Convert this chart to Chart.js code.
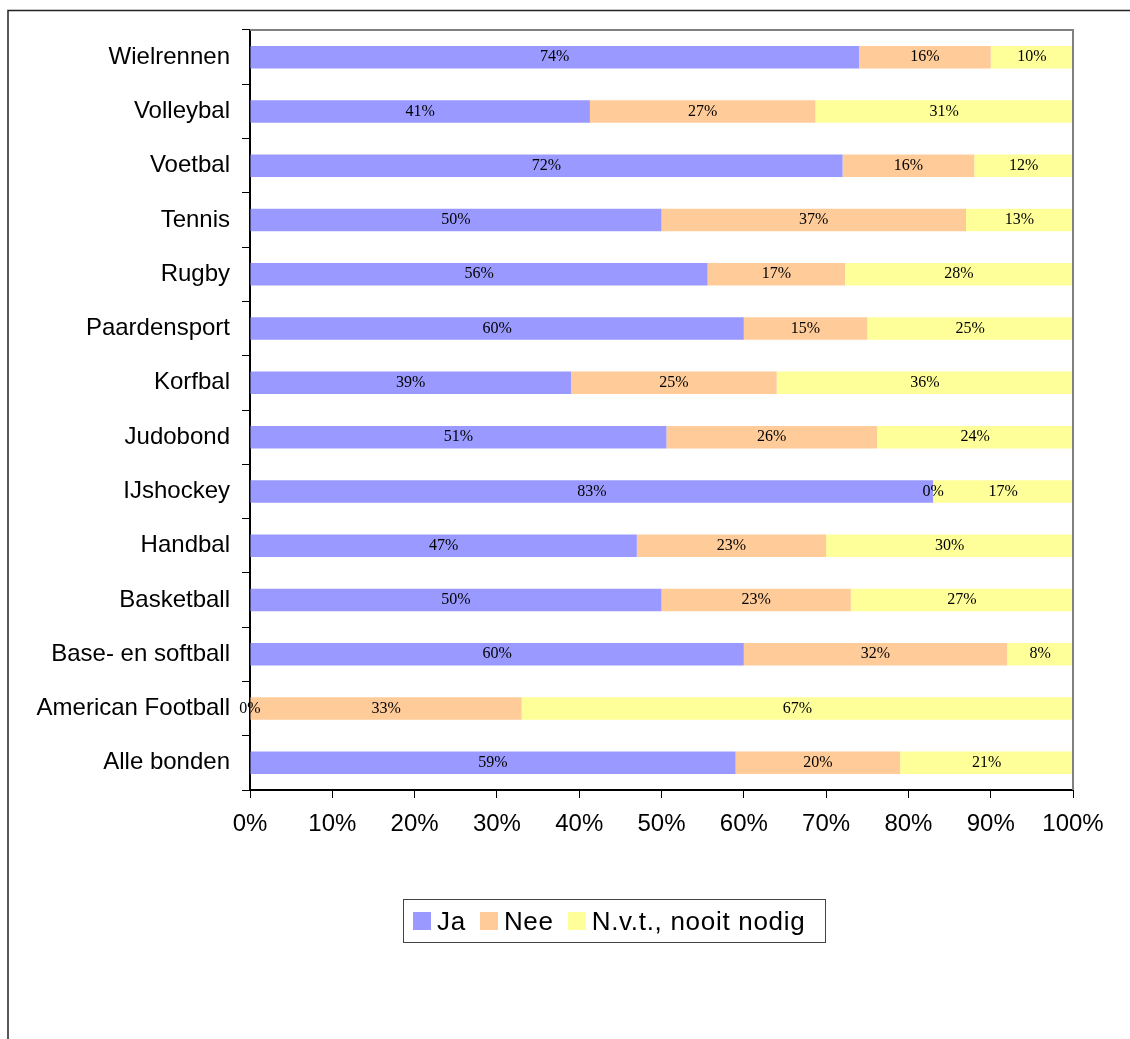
<!DOCTYPE html>
<html>
<head>
<meta charset="utf-8">
<script src="https://cdn.jsdelivr.net/npm/chart.js@4"></script>
<style>
    html, body { margin: 0; padding: 0; background: #fff; }
    #wrap { position: relative; width: 1130px; height: 1039px; overflow: hidden; }
    #legend {
        position: absolute; left: 403px; top: 899px; width: 421px; height: 42px;
        border: 1px solid #444; display: flex; align-items: center;
        font-family: 'Liberation Sans', Arial, sans-serif; font-size: 26px; color: #000;
        letter-spacing: 0.7px;
    }
    #legend span.item { display: flex; align-items: center; margin-left: 14px; }
    #legend span.item:first-child { margin-left: 9px; }
    #legend span.box { width: 18px; height: 18px; margin-right: 6px; display: inline-block; }
</style>
</head>
<body>
<div id="wrap">
    <canvas id="sportChart" width="1130" height="1039"></canvas>
    <div id="legend"></div>
</div>
<script>
const categories = ['Wielrennen', 'Volleybal', 'Voetbal', 'Tennis', 'Rugby', 'Paardensport', 'Korfbal',
    'Judobond', 'IJshockey', 'Handbal', 'Basketball', 'Base- en softball', 'American Football', 'Alle bonden'];
const ja  = [74, 41.3, 72, 50, 55.6, 60, 39, 50.6, 83, 47, 50, 60, 0, 59];
const nee = [16, 27.4, 16, 37, 16.7, 15, 25, 25.6, 0, 23, 23, 32, 33, 20];
const nvt = [10, 31.3, 12, 13, 27.7, 25, 36, 23.8, 17, 30, 27, 8, 67, 21];
const seriesNames = ['Ja', 'Nee', 'N.v.t., nooit nodig'];
const xTicks = [0, 10, 20, 30, 40, 50, 60, 70, 80, 90, 100];

// labels in the middle of each segment
const barLabels = {
    id: 'barLabels',
    afterDatasetsDraw(chart) {
        const ctx = chart.ctx;
        ctx.save();
        ctx.font = '16px "Liberation Serif", "Times New Roman", serif';
        ctx.fillStyle = '#000';
        ctx.textAlign = 'center';
        ctx.textBaseline = 'middle';
        chart.data.datasets.forEach((ds, i) => {
            chart.getDatasetMeta(i).data.forEach((bar, j) => {
                const v = ds.data[j];
                const cx = (bar.x + bar.base) / 2;
                ctx.fillText(Math.round(v) + '%', cx, bar.y);
            });
        });
        ctx.restore();
    }
};

// grey top/right plot border and the outer frame
const frames = {
    id: 'frames',
    afterDraw(chart) {
        const ctx = chart.ctx;
        const a = chart.chartArea;
        ctx.save();
        ctx.strokeStyle = '#808080';
        ctx.lineWidth = 2;
        ctx.beginPath();
        ctx.moveTo(a.left, a.top);
        ctx.lineTo(a.right, a.top);
        ctx.lineTo(a.right, a.bottom);
        ctx.stroke();
        ctx.strokeStyle = '#222';
        ctx.lineWidth = 1.5;
        ctx.strokeRect(8, 10.5, 1300, 1300);
        ctx.restore();
    }
};

const colors = ['#9999ff', '#ffcc99', '#ffff99'];

const chart = new Chart(document.getElementById('sportChart'), {
    type: 'bar',
    data: {
        labels: categories,
        datasets: [ja, nee, nvt].map((d, i) => ({
            label: seriesNames[i],
            data: d,
            backgroundColor: colors[i],
            borderWidth: 0,
            categoryPercentage: 1,
            barPercentage: 0.415
        }))
    },
    options: {
        indexAxis: 'y',
        responsive: false,
        animation: false,
        layout: { padding: { left: 0, top: 30, right: 57, bottom: 189 } },
        plugins: { legend: { display: false }, tooltip: { enabled: false } },
        scales: {
            x: {
                stacked: true,
                min: 0,
                max: 100,
                afterFit: s => { s.height = 60; },
                afterBuildTicks: s => { s.ticks = xTicks.map(v => ({ value: v })); },
                ticks: {
                    callback: v => v + '%',
                    color: '#000',
                    padding: 12,
                    maxRotation: 0,
                    font: { family: '"Liberation Sans", Arial, sans-serif', size: 24 }
                },
                grid: { drawOnChartArea: false, tickLength: 8, color: '#000' },
                border: { color: '#000', width: 2 }
            },
            y: {
                stacked: true,
                afterFit: s => { s.width = 250; },
                ticks: {
                    color: '#000',
                    padding: 12,
                    font: { family: '"Liberation Sans", Arial, sans-serif', size: 24 }
                },
                grid: { drawOnChartArea: false, tickLength: 8, color: '#000', offset: true },
                border: { color: '#000', width: 2 }
            }
        }
    },
    plugins: [barLabels, frames]
});

// legend box built from the datasets
const legend = document.getElementById('legend');
chart.data.datasets.forEach(ds => {
    const item = document.createElement('span');
    item.className = 'item';
    item.innerHTML = '<span class="box" style="background:' + ds.backgroundColor + '"></span>' + ds.label;
    legend.appendChild(item);
});
</script>
</body>
</html>
